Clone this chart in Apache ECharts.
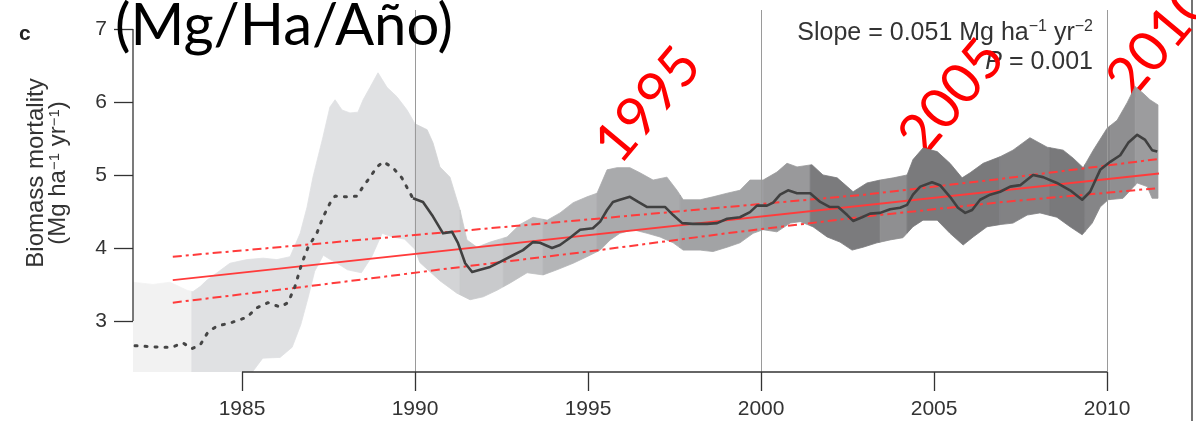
<!DOCTYPE html>
<html><head><meta charset="utf-8">
<script src="https://cdn.jsdelivr.net/npm/echarts@6/dist/echarts.min.js"></script>
<style>html,body{margin:0;padding:0;background:#fff}#c{width:1196px;height:421px}</style>
</head><body><div id="c"></div>
<script>
// ---- axes / ticks ----
const xTicks = [1985, 1990, 1995, 2000, 2005, 2010];
const yTicks = [3, 4, 5, 6, 7];
const gridYears = [1990, 2000, 2010];
const X_MIN = 1981.85, X_MAX = 2011.5, Y_MIN = 2.3, Y_MAX = 7.26;

// ---- running mean (dotted part, pre-1990) ----
const dottedYears = [1981.91,1982.63,1982.98,1983.29,1983.55,1983.79,1984.02,1984.28,1984.65,1985.14,1985.43,1985.75,1986.1,1986.33,1986.53,1986.73,1986.91,1987.17,1987.34,1987.54,1987.69,1988.03,1988.32,1988.5,1988.7,1988.9,1989.08,1989.36,1989.62,1989.8,1989.94];
const dottedVals  = [2.66,2.64,2.64,2.70,2.62,2.67,2.85,2.93,2.97,3.05,3.18,3.25,3.19,3.25,3.47,3.79,4.01,4.21,4.42,4.61,4.71,4.70,4.71,4.84,4.97,5.11,5.18,5.10,4.96,4.80,4.68];

// ---- running mean (solid part) ----
const solidYears = [1989.94,1990.23,1990.52,1990.81,1991.07,1991.24,1991.45,1991.65,1991.88,1992.17,1992.46,1992.83,1993.12,1993.41,1993.61,1993.96,1994.19,1994.48,1994.77,1995.14,1995.35,1995.55,1995.72,1995.92,1996.21,1996.45,1996.71,1996.99,1997.23,1997.46,1997.72,1998.03,1998.44,1998.73,1999.02,1999.39,1999.68,1999.88,2000.17,2000.35,2000.55,2000.78,2001.04,2001.42,2001.71,2001.99,2002.23,2002.49,2002.66,2002.92,2003.15,2003.44,2003.73,2004.02,2004.22,2004.39,2004.6,2004.94,2005.17,2005.46,2005.69,2005.9,2006.1,2006.33,2006.62,2006.91,2007.2,2007.49,2007.86,2008.15,2008.55,2008.93,2009.28,2009.51,2009.8,2010.09,2010.38,2010.61,2010.87,2011.1,2011.3,2011.45];
const solidVals  = [4.68,4.63,4.43,4.20,4.22,4.07,3.79,3.67,3.70,3.74,3.81,3.90,3.97,4.08,4.07,4.00,4.04,4.14,4.25,4.27,4.36,4.52,4.63,4.66,4.70,4.63,4.56,4.56,4.56,4.45,4.34,4.33,4.33,4.34,4.40,4.42,4.49,4.58,4.58,4.62,4.73,4.79,4.75,4.75,4.63,4.56,4.56,4.45,4.37,4.42,4.47,4.48,4.53,4.55,4.59,4.73,4.84,4.90,4.86,4.70,4.55,4.48,4.52,4.66,4.73,4.77,4.84,4.86,5.00,4.97,4.89,4.79,4.66,4.77,5.07,5.18,5.27,5.44,5.55,5.48,5.34,5.32];

// ---- uncertainty band ----
const upperYears = [1981.85,1982.43,1982.92,1983.41,1983.58,1983.79,1983.99,1984.28,1984.65,1985.14,1985.61,1986.01,1986.39,1986.68,1986.88,1987.05,1987.34,1987.54,1987.69,1987.89,1988.12,1988.35,1988.5,1988.7,1988.93,1989.19,1989.48,1989.77,1990.0,1990.35,1990.52,1990.72,1991.01,1991.3,1991.5,1991.79,1992.17,1992.66,1993.03,1993.41,1993.82,1994.19,1994.57,1994.97,1995.26,1995.55,1995.84,1996.21,1996.5,1996.88,1997.28,1997.57,1997.75,1998.24,1998.61,1999.02,1999.39,1999.68,2000.06,2000.46,2000.75,2001.04,2001.47,2001.79,2002.2,2002.49,2002.66,2003.06,2003.44,2003.82,2004.22,2004.39,2004.68,2005.09,2005.46,2005.81,2006.04,2006.42,2006.91,2007.28,2007.77,2008.27,2008.73,2009.02,2009.31,2009.6,2010.0,2010.29,2010.58,2010.81,2011.04,2011.24,2011.47];
const upperVals  = [3.53,3.50,3.53,3.42,3.40,3.47,3.56,3.66,3.79,3.84,3.86,3.84,3.88,4.20,4.56,4.97,5.52,5.93,6.03,5.89,5.85,5.86,6.03,6.20,6.40,6.20,6.07,5.89,5.70,5.62,5.44,5.11,4.97,4.52,4.11,4.01,4.08,4.15,4.32,4.42,4.38,4.48,4.62,4.70,4.75,5.07,5.10,5.10,5.03,4.93,4.97,4.79,4.66,4.66,4.70,4.75,4.79,4.93,4.93,5.04,5.16,5.11,5.14,5.00,4.96,4.84,4.77,4.89,4.93,4.96,5.00,5.21,5.37,5.32,5.16,4.96,5.03,5.16,5.25,5.34,5.51,5.38,5.34,5.23,5.10,5.34,5.64,5.75,5.99,6.21,6.12,6.03,5.96];
const lowerYears = [1981.85,1985.3,1985.6,1986.1,1986.45,1986.7,1986.9,1987.1,1987.35,1987.55,1987.75,1988.05,1988.45,1988.75,1989.05,1989.35,1989.7,1990.0,1990.14,1990.72,1991.21,1991.59,1991.97,1992.37,1992.75,1993.24,1993.7,1994.1,1994.57,1994.97,1995.35,1995.64,1995.92,1996.3,1996.71,1997.08,1997.46,1997.75,1998.24,1998.61,1999.02,1999.39,1999.77,2000.06,2000.46,2000.84,2001.13,2001.5,2001.91,2002.28,2002.63,2002.95,2003.35,2003.73,2004.1,2004.39,2004.68,2005.09,2005.46,2005.84,2006.13,2006.53,2006.91,2007.28,2007.69,2008.06,2008.55,2008.93,2009.28,2009.57,2009.8,2010.03,2010.46,2010.87,2011.16,2011.3,2011.47];
const lowerVals  = [2.30,2.30,2.49,2.50,2.64,2.95,3.30,3.68,3.90,3.84,3.79,3.70,3.66,3.88,4.20,4.15,4.12,3.98,3.80,3.55,3.38,3.29,3.33,3.42,3.52,3.66,3.63,3.70,3.79,3.88,3.97,4.11,4.20,4.25,4.20,4.15,4.07,3.97,3.97,3.95,4.01,4.07,4.20,4.25,4.22,4.34,4.36,4.29,4.15,4.08,3.97,4.01,4.07,4.11,4.14,4.29,4.38,4.38,4.20,4.04,4.15,4.29,4.32,4.34,4.45,4.48,4.42,4.29,4.18,4.34,4.56,4.66,4.68,4.89,4.84,4.68,4.68];

// shading strips of the band
const shadeBreaks = [1981.85,1983.55,1990.0,1991.3,1992.55,1993.7,1995.26,1997.66,2000.06,2001.42,2003.44,2004.22,2006.9,2008.35,2009.36,2010.09,2010.81,2011.47];
const shadeColors = ['#f2f2f2','#e0e1e3','#d3d4d6','#c9cacc','#bfc0c2','#b4b5b7','#a9aaac','#a2a3a5','#99999b','#7b7b7d','#8f8f91','#7a7a7c','#828284','#79797b','#858587','#8f8f91','#9c9c9e'];

// ---- regression and confidence interval ----
const regYears = [1983.0, 2011.5];
const regVals  = [3.56, 5.02];
const ciYears  = [1983, 1987, 1991, 1995, 1999, 2003, 2007, 2011.5];
const ciUpper  = [3.88, 4.05, 4.22, 4.39, 4.56, 4.73, 4.95, 5.22];
const ciLower  = [3.25, 3.48, 3.72, 3.95, 4.20, 4.43, 4.63, 4.82];

// ---- annotation texts ----
const yearLabels = ['1995', '2005', '2010'];

const zip = (xs, ys) => xs.map((x, i) => [x, ys[i]]);
function interp(xs, ys, x) {
  if (x <= xs[0]) return ys[0];
  for (let i = 1; i < xs.length; i++) {
    if (x <= xs[i]) { const t = (x - xs[i-1]) / (xs[i] - xs[i-1]); return ys[i-1] + t * (ys[i] - ys[i-1]); }
  }
  return ys[ys.length - 1];
}

const chart = echarts.init(document.getElementById('c'), null, {renderer: 'canvas'});
const red = '#ff3b3b';
const axisFont = 'Liberation Sans, Arial, sans-serif';

chart.setOption({
  animation: false,
  backgroundColor: '#ffffff',
  title: {
    text: '(Mg/Ha/Año)', left: 110, top: -8,
    textStyle: {fontFamily: 'Lato, sans-serif', fontSize: 58, fontWeight: 'normal', color: '#000'}
  },
  grid: {left: 133, right: 1196 - 1159, top: 10, bottom: 421 - 372},
  xAxis: {
    type: 'value', min: X_MIN, max: X_MAX,
    axisLine: {show: false}, splitLine: {show: false},
    axisTick: {show: true, customValues: xTicks, length: 19, lineStyle: {color: '#333', width: 1.3}},
    axisLabel: {customValues: xTicks, margin: 27, color: '#333', fontSize: 21, fontFamily: axisFont, formatter: v => String(v)}
  },
  yAxis: {
    type: 'value', min: Y_MIN, max: Y_MAX,
    axisLine: {show: false}, splitLine: {show: false},
    axisTick: {show: true, customValues: yTicks, length: 19, lineStyle: {color: '#333', width: 1.3}},
    axisLabel: {customValues: yTicks, margin: 26, color: '#333', fontSize: 21, fontFamily: axisFont},
    name: 'Biomass mortality\n(Mg ha{s|−1} yr{s|−1})',
    nameLocation: 'middle', nameGap: 64, nameRotate: 90,
    nameTextStyle: {
      color: '#333', fontSize: 24, fontFamily: axisFont, lineHeight: 22, padding: [0, 0, 0, 36],
      rich: {s: {fontSize: 15, lineHeight: 15, verticalAlign: 'top', fontFamily: axisFont, color: '#333'}}
    }
  },
  graphic: [
    {type: 'text', left: 19, top: 24, style: {text: 'c', font: 'bold 21px Liberation Sans, Arial, sans-serif', fill: '#222'}},
    {type: 'line', shape: {x1: 1192, y1: 0, x2: 1192, y2: 421}, style: {stroke: '#444', lineWidth: 1.5}, silent: true},
    {type: 'text', x: 1093, y: 33, style: {
      text: 'Slope = 0.051 Mg ha{s|−1} yr{s|−2}', align: 'right', verticalAlign: 'middle',
      font: '25px Liberation Sans, Arial, sans-serif', fill: '#333', lineHeight: 28,
      rich: {s: {fontSize: 16, lineHeight: 16, verticalAlign: 'top', fill: '#333', fontFamily: axisFont}}
    }},
    {type: 'text', x: 1093, y: 62, style: {
      text: '{i|P} = 0.001', align: 'right', verticalAlign: 'middle',
      font: '25px Liberation Sans, Arial, sans-serif', fill: '#333',
      rich: {i: {fontStyle: 'italic', fontSize: 25, fontFamily: axisFont, fill: '#333'}}
    }},
    {type: 'text', x: 648, y: 105, rotation: 50 * Math.PI / 180, style: {text: yearLabels[0], align: 'center', verticalAlign: 'middle', font: '56px Lato, sans-serif', fill: '#ff0000'}},
    {type: 'text', x: 952, y: 97, rotation: 50 * Math.PI / 180, style: {text: yearLabels[1], align: 'center', verticalAlign: 'middle', font: '56px Lato, sans-serif', fill: '#ff0000'}},
    {type: 'text', x: 1160, y: 40, rotation: 50 * Math.PI / 180, style: {text: yearLabels[2], align: 'center', verticalAlign: 'middle', font: '56px Lato, sans-serif', fill: '#ff0000'}}
  ],
  series: [
    {
      type: 'custom', name: 'band', silent: true, clip: true, z: 1,
      data: shadeBreaks.slice(0, -1).map((b, i) => [b, shadeBreaks[i+1], i]),
      encode: {x: [0, 1]},
      renderItem: (params, api) => {
        const x0 = api.value(0), x1 = api.value(1), col = shadeColors[api.value(2)];
        const pts = [api.coord([x0, interp(upperYears, upperVals, x0)])];
        upperYears.forEach((x, i) => { if (x > x0 && x < x1) pts.push(api.coord([x, upperVals[i]])); });
        pts.push(api.coord([x1, interp(upperYears, upperVals, x1)]));
        pts.push(api.coord([x1, interp(lowerYears, lowerVals, x1)]));
        for (let i = lowerYears.length - 1; i >= 0; i--) { const x = lowerYears[i]; if (x > x0 && x < x1) pts.push(api.coord([x, lowerVals[i]])); }
        pts.push(api.coord([x0, interp(lowerYears, lowerVals, x0)]));
        return {type: 'polygon', shape: {points: pts}, style: {fill: col, stroke: col, lineWidth: 0.8}};
      }
    },
    {
      type: 'line', name: 'yaxis', data: [[X_MIN, yTicks[0]], [X_MIN, yTicks[yTicks.length-1]]],
      symbol: 'none', clip: false, silent: true, z: 5, lineStyle: {color: '#333', width: 1.3}
    },
    {
      type: 'line', name: 'xaxis', data: [[xTicks[0], Y_MIN], [xTicks[xTicks.length-1], Y_MIN]],
      symbol: 'none', clip: false, silent: true, z: 5, lineStyle: {color: '#333', width: 1.3},
      markLine: {
        silent: true, symbol: 'none', label: {show: false},
        lineStyle: {color: '#9a9a9a', width: 1, type: 'solid'},
        data: gridYears.map(y => ({xAxis: y}))
      }
    },
    {type: 'line', name: 'ciU', data: zip(ciYears, ciUpper), symbol: 'none', silent: true, z: 6,
      lineStyle: {color: red, width: 2, type: [9, 4, 3, 4]}},
    {type: 'line', name: 'ciL', data: zip(ciYears, ciLower), symbol: 'none', silent: true, z: 6,
      lineStyle: {color: red, width: 2, type: [9, 4, 3, 4]}},
    {type: 'line', name: 'reg', data: zip(regYears, regVals), symbol: 'none', silent: true, z: 6,
      lineStyle: {color: red, width: 1.8}},
    {type: 'line', name: 'meanDotted', data: zip(dottedYears, dottedVals), symbol: 'none', silent: true, z: 7,
      lineStyle: {color: '#454545', width: 3, type: [2, 8], cap: 'round'}},
    {type: 'line', name: 'meanSolid', data: zip(solidYears, solidVals), symbol: 'none', silent: true, z: 7,
      lineStyle: {color: '#404040', width: 2.6, join: 'round'}}
  ]
});
</script></body></html>
